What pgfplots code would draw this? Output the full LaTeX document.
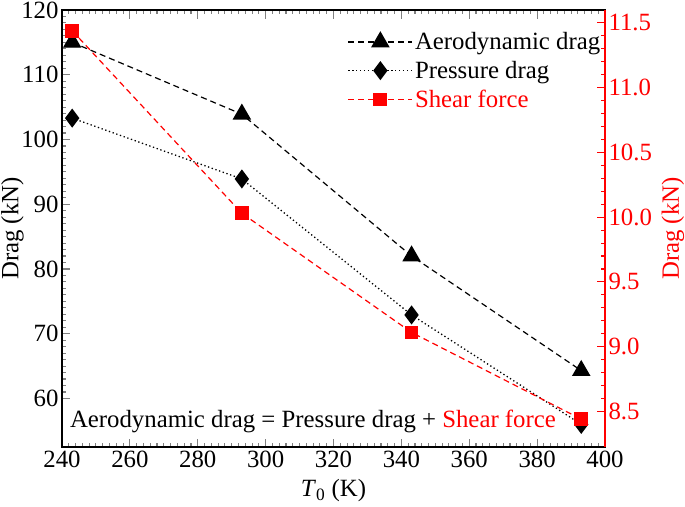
\documentclass[border=0pt]{standalone}
\usepackage{fontspec}
\setmainfont{LiberationSerif}[Extension=.ttf, UprightFont=*-Regular, ItalicFont=*-Italic, BoldFont=*-Bold, BoldItalicFont=*-BoldItalic]
\usepackage{pgfplots}
\pgfplotsset{compat=1.18}
\begin{document}
\begin{tikzpicture}[font=\rmfamily\fontsize{24.8}{29}\selectfont]
\useasboundingbox (-62pt,-59pt) rectangle (623pt,447pt);
\pgfplotsset{
  common/.style={
    at={(0pt,0pt)}, anchor=south west,
    scale only axis, width=543pt, height=437pt,
    xmin=240, xmax=400,
    tick align=inside,
    major tick length=8.5pt, minor tick length=4pt,
    every tick/.append style={line width=1.1pt},
    /pgf/number format/assume math mode=true,
    legend image code/.code={\draw[mark repeat=2,mark phase=2] plot coordinates {(0pt,0pt) (32pt,0pt) (64pt,0pt)};},
  }
}
\begin{axis}[common,
  ymin=52.5, ymax=120,
  xtick={240,260,...,400}, ytick={60,70,...,120},
  minor x tick num=9, minor y tick num=9,
  ytick pos=left,
  axis line style={line width=1.5pt},
  xlabel={\textit{T}\textsubscript{0} (K)}, ylabel={Drag (kN)},
  every axis x label/.style={at={(axis description cs:0.5,-0.1144)}, anchor=base},
  every axis y label/.style={at={(axis description cs:-0.0912,0.5)}, anchor=center, rotate=90},
  legend style={at={(axis description cs:0.999,0.958)}, anchor=north east, draw=none, fill=none, font=\rmfamily\fontsize{24.8}{29}\selectfont, inner sep=2pt, row sep=6pt},
  legend cell align=left,
]
\addplot[black, line width=1.2pt, dash pattern=on 6pt off 4pt, mark=triangle*, mark size=9.5pt, mark options={solid}]
  coordinates {(243,115) (293,103.9) (343,82.0) (393,64.3)};
\addlegendentry{Aerodynamic drag}
\addplot[black, line width=1.3pt, dash pattern=on 1.3pt off 2.6pt, mark=diamond*, mark size=8.5pt, mark options={solid}]
  coordinates {(243,103.3) (293,93.9) (343,72.9) (393,56.0)};
\addlegendentry{Pressure drag}
\addlegendimage{red, line width=1.2pt, dash pattern=on 6pt off 4pt, mark=square*, mark size=6.3pt, mark options={solid}}
\addlegendentry{\textcolor{red}{Shear force}}
\node[anchor=west, inner sep=0pt] at (axis cs:242.3,56.4) {Aerodynamic drag = Pressure drag + \textcolor{red}{Shear force}};
\end{axis}
\begin{axis}[common,
  ymin=8.225, ymax=11.6,
  axis y line*=right, axis x line=none,
  ytick={8.5,9,...,11.5}, minor y tick num=4,
  y axis line style={red, line width=1.5pt},
  every tick/.append style={red},
  yticklabel style={red, /pgf/number format/.cd, fixed, fixed zerofill, precision=1},
  ylabel={Drag (kN)},
  every axis y label/.style={at={(axis description cs:1.125,0.5)}, anchor=center, rotate=90, red},
]
\addplot[red, line width=1.2pt, dash pattern=on 6pt off 4pt, mark=square*, mark size=6.3pt, mark options={solid}]
  coordinates {(243,11.44) (293,10.03) (343,9.11) (393,8.44)};
\end{axis}
\end{tikzpicture}
\end{document}
